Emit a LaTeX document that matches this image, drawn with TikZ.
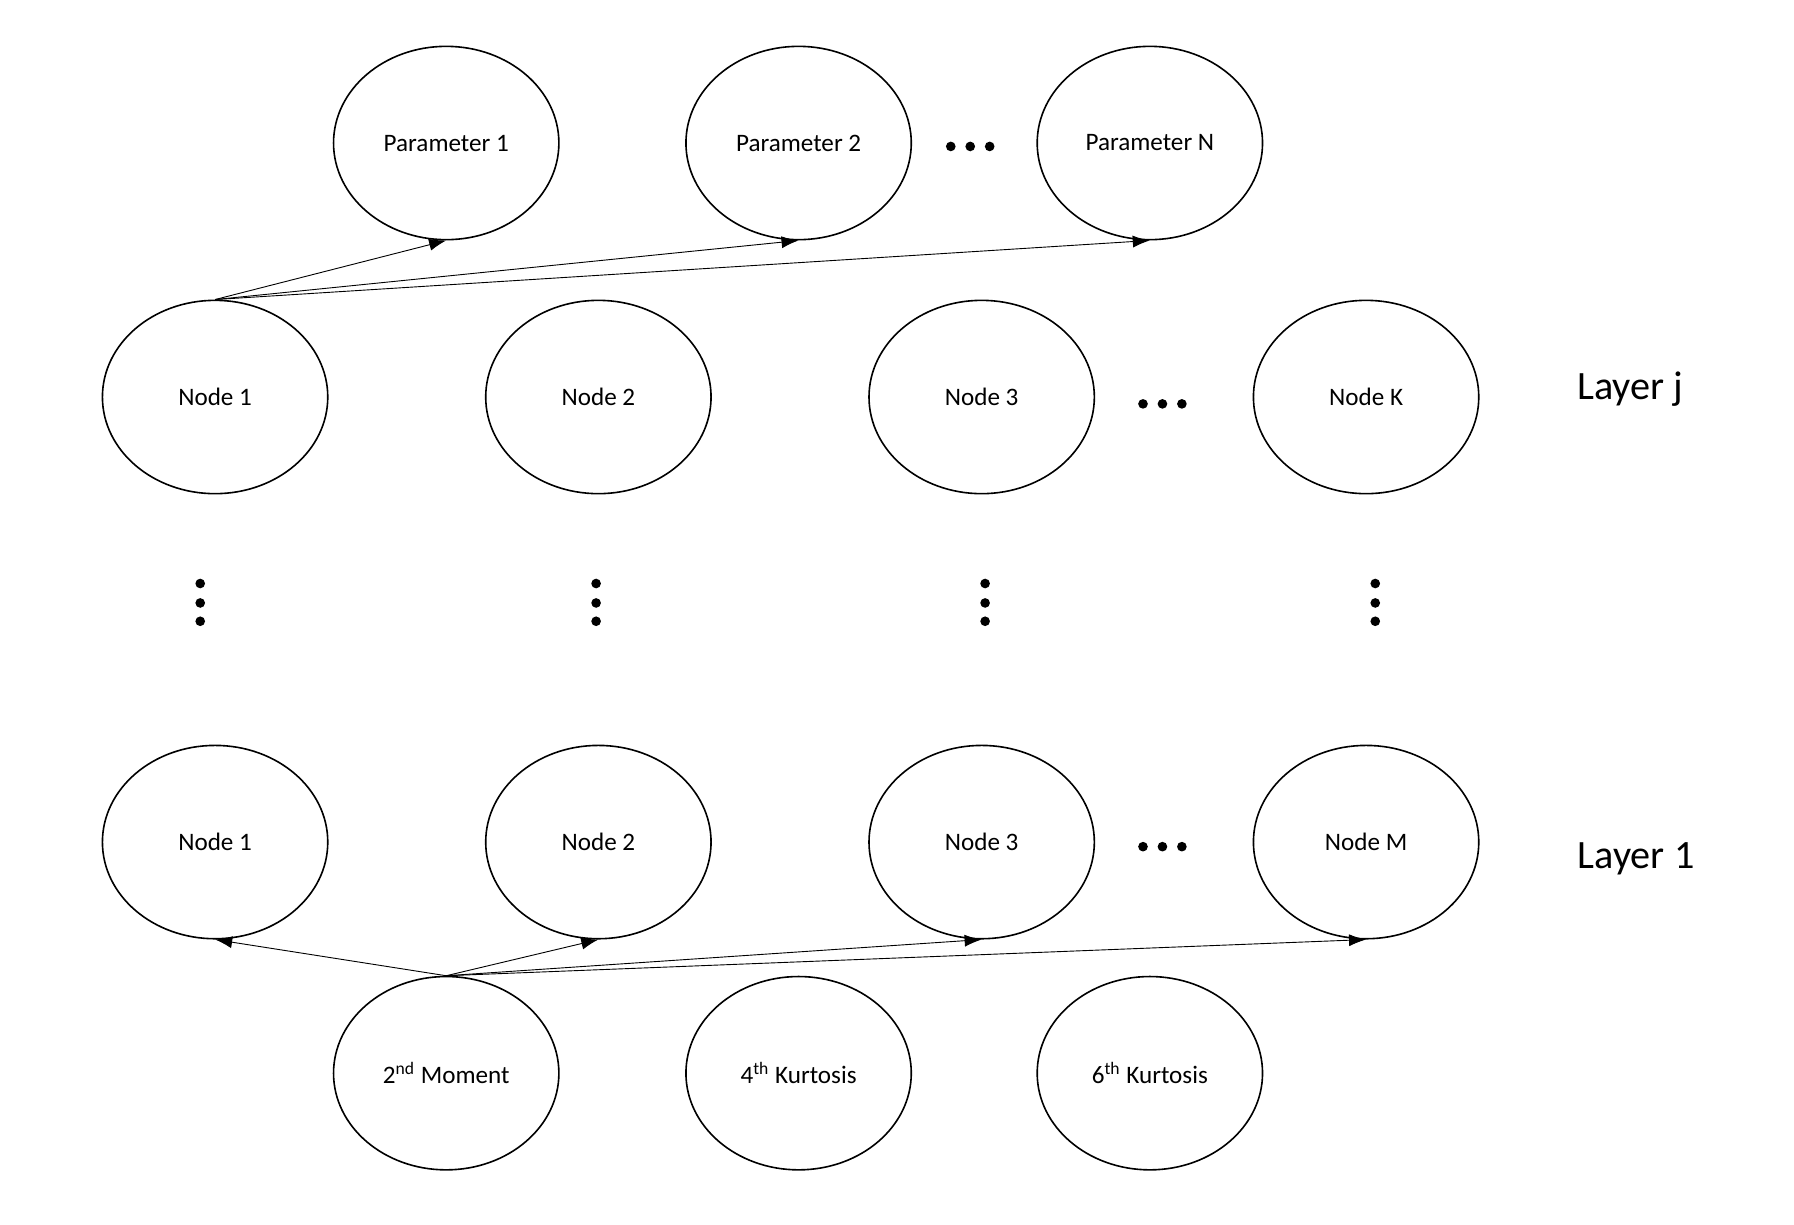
\documentclass[tikz,border=0pt]{standalone}
\usepackage{fontspec}
\setmainfont{Carlito}
\usetikzlibrary{shapes.geometric,arrows.meta}
\begin{document}
\begin{tikzpicture}[x=0.02cm, y=-0.02cm,
  unit/.style={ellipse, draw, line width=0.8pt, minimum width=3.94cm,
    minimum height=3.38cm, inner sep=0pt, font=\fontsize{12.5}{15}\selectfont},
  link/.style={-{Latex[length=8.5pt,width=6pt]}, line width=0.45pt},
  layer/.style={font=\fontsize{20}{24}\selectfont}]
  \useasboundingbox (0,0) rectangle (1568,1070);

  % parameters
  \node[unit] (p1) at (390, 125) {Parameter 1};
  \node[unit] (p2) at (698, 125) {Parameter 2};
  \node[unit] (pn) at (1005, 125) {Parameter N};
  \foreach \d in {-17,0,17}
    \fill (848+\d, 128) circle[radius=2.4pt];

  % layer j
  \node[unit] (j1) at (188, 347) {Node 1};
  \node[unit] (j2) at (523, 347) {Node 2};
  \node[unit] (j3) at (858, 347) {Node 3};
  \node[unit] (jk) at (1194, 347) {Node K};
  \foreach \d in {-17,0,17}
    \fill (1016+\d, 353) circle[radius=2.4pt];
  \node[layer] (lj) at (1425, 340) {Layer j};
  \draw[link] (j1.north) -- (p1.south);
  \draw[link] (j1.north) -- (p2.south);
  \draw[link] (j1.north) -- (pn.south);

  % vertical dots
  \foreach \x in {175, 521, 861, 1202}
    \foreach \y in {510, 527, 543}
      \fill (\x, \y) circle[radius=2.4pt];

  % layer 1
  \node[unit] (a1) at (188, 736) {Node 1};
  \node[unit] (a2) at (523, 736) {Node 2};
  \node[unit] (a3) at (858, 736) {Node 3};
  \node[unit] (am) at (1194, 736) {Node M};
  \foreach \d in {-17,0,17}
    \fill (1016+\d, 740) circle[radius=2.4pt];
  \node[layer] (l1) at (1430, 751) {Layer 1};

  % moments
  \node[unit] (m2) at (390, 938) {2\textsuperscript{nd} Moment};
  \node[unit] (k4) at (698, 938) {4\textsuperscript{th} Kurtosis};
  \node[unit] (k6) at (1005, 938) {6\textsuperscript{th} Kurtosis};
  \draw[link] (m2.north) -- (a1.south);
  \draw[link] (m2.north) -- (a2.south);
  \draw[link] (m2.north) -- (a3.south);
  \draw[link] (m2.north) -- (am.south);
\end{tikzpicture}
\end{document}
